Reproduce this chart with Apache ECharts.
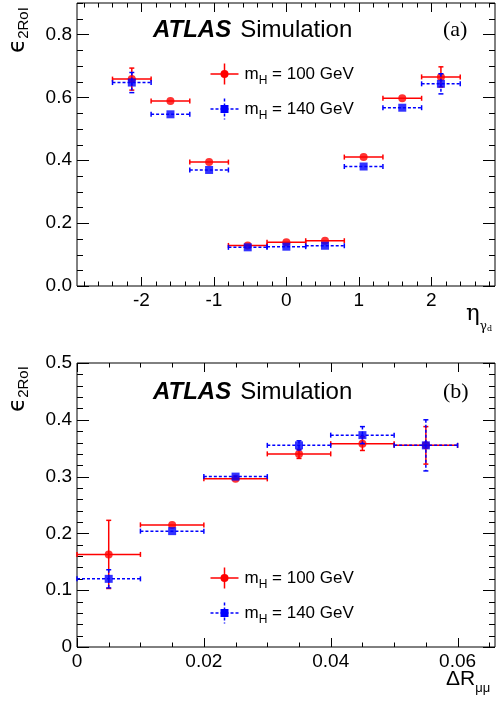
<!DOCTYPE html>
<html>
<head>
<meta charset="utf-8">
<script src="https://cdn.jsdelivr.net/npm/echarts@6/dist/echarts.min.js"></script>
<style>
html,body{margin:0;padding:0;background:#fff;}
#c{width:496px;height:703px;}
</style>
</head>
<body>
<div id="c"></div>
<script>
// ---------- data ----------
const etaEdges   = [-2.4, -1.867, -1.333, -0.8, -0.267, 0.267, 0.8, 1.333, 1.867, 2.4];
const eta100     = [0.658, 0.588, 0.394, 0.129, 0.139, 0.144, 0.410, 0.597, 0.665];
const eta100Err  = [0.035, 0.010, 0.007, 0.005, 0.005, 0.005, 0.007, 0.010, 0.032];
const eta140     = [0.647, 0.546, 0.369, 0.123, 0.125, 0.128, 0.380, 0.567, 0.643];
const eta140Err  = [0.032, 0.010, 0.007, 0.005, 0.005, 0.005, 0.007, 0.010, 0.032];

const drEdges    = [0, 0.01, 0.02, 0.03, 0.04, 0.05, 0.06];
const dr100      = [0.163, 0.215, 0.296, 0.340, 0.358, 0.355];
const dr100Err   = [0.060, 0.006, 0.005, 0.008, 0.012, 0.033];
const dr140      = [0.120, 0.204, 0.300, 0.355, 0.373, 0.355];
const dr140Err   = [0.016, 0.005, 0.005, 0.008, 0.015, 0.045];

const etaTickLabels = [-2, -1, 0, 1, 2];
const effATickLabels = [0, 0.2, 0.4, 0.6, 0.8];
const drTickLabels = [0, 0.02, 0.04, 0.06];
const effBTickLabels = [0, 0.1, 0.2, 0.3, 0.4, 0.5];

const legendLabels = ['100 GeV', '140 GeV'];

// ---------- helpers ----------
const RED = '#ff0000', BLUE = '#0000ff';
const FONT = '"Liberation Sans", Arial, Helvetica, sans-serif';

function ticks(lo, hi, step) {
  const out = [];
  const n0 = Math.ceil(lo / step - 1e-9), n1 = Math.floor(hi / step + 1e-9);
  for (let n = n0; n <= n1; n++) out.push(+(n * step).toFixed(6));
  return out;
}

function errData(edges, vals, errs) {
  return vals.map((v, i) => [edges[i], edges[i + 1], v, errs[i]]);
}
function ptData(edges, vals) {
  return vals.map((v, i) => [(edges[i] + edges[i + 1]) / 2, v]);
}

function errRender(color, dashed) {
  return function (params, api) {
    const xlo = api.value(0), xhi = api.value(1), y = api.value(2), e = api.value(3);
    const xc = (xlo + xhi) / 2;
    const pL = api.coord([xlo, y]), pR = api.coord([xhi, y]);
    const pT = api.coord([xc, y + e]), pB = api.coord([xc, y - e]);
    const st = { stroke: color, lineWidth: 1.5, lineDash: dashed ? [3, 2] : null };
    const cst = { stroke: color, lineWidth: 1.5 };
    const c = 2.5;
    const L = (x1, y1, x2, y2, s) => ({ type: 'line', shape: { x1, y1, x2, y2 }, style: s });
    const ch = [
      L(pL[0], pL[1], pR[0], pR[1], st),
      L(pL[0], pL[1] - c, pL[0], pL[1] + c, cst),
      L(pR[0], pR[1] - c, pR[0], pR[1] + c, cst)
    ];
    if (pB[1] - pT[1] > 7) {
      ch.push(L(pT[0], pT[1], pB[0], pB[1], st));
      ch.push(L(pT[0] - c, pT[1], pT[0] + c, pT[1], cst));
      ch.push(L(pB[0] - c, pB[1], pB[0] + c, pB[1], cst));
    }
    return { type: 'group', children: ch };
  };
}

// tick marks drawn on all four sides of the frame, through the axis scales
function tickSeries(gi, xMajor, xMinor, yMajor, yMinor, xLen, yLen) {
  const data = [];
  xMajor.forEach(v => data.push([v, 0, 1, 0]));
  xMinor.forEach(v => data.push([v, 0, 0, 0]));
  yMajor.forEach(v => data.push([0, v, 1, 1]));
  yMinor.forEach(v => data.push([0, v, 0, 1]));
  return {
    type: 'custom', xAxisIndex: gi, yAxisIndex: gi, silent: true, clip: false, z: 1,
    encode: { x: 0, y: 1 },
    data: data,
    renderItem: function (params, api) {
      const cs = params.coordSys;
      const major = api.value(2) === 1, isY = api.value(3) === 1;
      const st = { stroke: '#000', lineWidth: 1 };
      if (!isY) {
        const px = Math.round(api.coord([api.value(0), 0.0])[0]) + 0.5;
        const len = major ? xLen : xLen / 2;
        const b = cs.y + cs.height, t = cs.y;
        return { type: 'group', children: [
          { type: 'line', shape: { x1: px, y1: b, x2: px, y2: b - len }, style: st },
          { type: 'line', shape: { x1: px, y1: t, x2: px, y2: t + len }, style: st }
        ]};
      } else {
        const py = Math.round(api.coord([0, api.value(1)])[1]) + 0.5;
        const len = major ? yLen : yLen / 2;
        const l = cs.x, r = cs.x + cs.width;
        return { type: 'group', children: [
          { type: 'line', shape: { x1: l, y1: py, x2: l + len, y2: py }, style: st },
          { type: 'line', shape: { x1: r, y1: py, x2: r - len, y2: py }, style: st }
        ]};
      }
    }
  };
}

const labelStyle = { color: '#000', fontFamily: FONT, fontSize: 19 };

function xAx(gi, min, max, labels, fmt) {
  return {
    type: 'value', gridIndex: gi, min, max,
    axisLine: { show: false }, axisTick: { show: false }, splitLine: { show: false },
    axisLabel: Object.assign({ customValues: labels, formatter: fmt, margin: 5, showMinLabel: true, showMaxLabel: true }, labelStyle)
  };
}
function yAx(gi, min, max, labels, fmt) {
  return {
    type: 'value', gridIndex: gi, min, max,
    axisLine: { show: false }, axisTick: { show: false }, splitLine: { show: false },
    axisLabel: Object.assign({ customValues: labels, formatter: fmt, margin: 5, showMinLabel: true, showMaxLabel: true }, labelStyle)
  };
}

function legendGraphic(x, y, color, dashed, square, massTxt) {
  const st = { stroke: color, lineWidth: 1.5, lineDash: dashed ? [3, 2] : null };
  const mark = square
    ? { type: 'rect', shape: { x: x - 4, y: y - 4, width: 8, height: 8 }, style: { fill: color } }
    : { type: 'circle', shape: { cx: x, cy: y, r: 4 }, style: { fill: color } };
  return [
    { type: 'line', shape: { x1: x - 14, y1: y, x2: x + 14, y2: y }, style: st, z: 10 },
    { type: 'line', shape: { x1: x, y1: y - 10.5, x2: x, y2: y + 10.5 }, style: st, z: 10 },
    Object.assign(mark, { z: 11 }),
    {
      type: 'text', x: x + 20, y: y, z: 10,
      style: {
        text: '{m|m}{s|H}{t| = ' + massTxt + '}',
        verticalAlign: 'middle', align: 'left',
        rich: {
          m: { fontFamily: FONT, fontSize: 17, fill: '#000', lineHeight: 26, verticalAlign: 'middle' },
          s: { fontFamily: FONT, fontSize: 12, fill: '#000', lineHeight: 26, verticalAlign: 'bottom' },
          t: { fontFamily: FONT, fontSize: 17, fill: '#000', lineHeight: 26, verticalAlign: 'middle' }
        }
      }
    }
  ];
}

function atlasText(x, y) {
  return {
    type: 'text', x: x, y: y, z: 10,
    style: {
      text: '{a|ATLAS}{b|Simulation}', verticalAlign: 'middle', align: 'left',
      rich: {
        a: { fontFamily: FONT, fontSize: 24, fontWeight: 'bold', fontStyle: 'italic', fill: '#000' },
        b: { fontFamily: FONT, fontSize: 24, fill: '#000', padding: [0, 0, 0, 9] }
      }
    }
  };
}
function panelTag(x, y, t) {
  return { type: 'text', x: x, y: y, z: 10,
    style: { text: t, fontFamily: '"Liberation Serif", "Times New Roman", serif', fontSize: 22, fill: '#000', align: 'left', verticalAlign: 'middle' } };
}
function yTitle(x, y) {
  return {
    type: 'text', x: x, y: y, rotation: Math.PI / 2, z: 10,
    style: {
      text: '{e|ϵ}{s|2RoI}', align: 'left', verticalAlign: 'middle',
      rich: {
        e: { fontFamily: '"DejaVu Sans", sans-serif', fontSize: 23, fill: '#000', lineHeight: 26, verticalAlign: 'middle' },
        s: { fontFamily: FONT, fontSize: 15, fill: '#000', lineHeight: 26, verticalAlign: 'bottom' }
      }
    }
  };
}

const chart = echarts.init(document.getElementById('c'), null, { renderer: 'canvas' });

const grids = [
  { left: 77, top: 3, width: 418, height: 283, show: true, borderColor: '#000', borderWidth: 1, backgroundColor: 'transparent' },
  { left: 77, top: 363, width: 418, height: 284, show: true, borderColor: '#000', borderWidth: 1, backgroundColor: 'transparent' }
];

const option = {
  animation: false,
  backgroundColor: '#fff',
  grid: grids,
  xAxis: [
    xAx(0, -2.89, 2.88, etaTickLabels, v => String(v)),
    xAx(1, 0, 0.0659, drTickLabels, v => v === 0 ? '0' : v.toFixed(2))
  ],
  yAxis: [
    yAx(0, 0, 0.9, effATickLabels, v => v.toFixed(1)),
    yAx(1, 0, 0.5, effBTickLabels, v => v === 0 ? '0' : v.toFixed(1))
  ],
  series: [
    tickSeries(0, ticks(-2.89, 2.88, 1), ticks(-2.89, 2.88, 0.2).filter(v => Math.abs(v - Math.round(v)) > 1e-6),
               ticks(0, 0.9, 0.2), ticks(0, 0.9, 0.05).filter(v => Math.abs(v / 0.2 - Math.round(v / 0.2)) > 1e-6), 9, 12),
    tickSeries(1, ticks(0, 0.0659, 0.02), ticks(0, 0.0659, 0.005).filter(v => Math.abs(v / 0.02 - Math.round(v / 0.02)) > 1e-6),
               ticks(0, 0.5, 0.1), ticks(0, 0.5, 0.02).filter(v => Math.abs(v / 0.1 - Math.round(v / 0.1)) > 1e-6), 9, 12),

    { type: 'custom', name: 'mH100 err a', xAxisIndex: 0, yAxisIndex: 0, encode: { x: [0, 1], y: 2 }, clip: false, z: 2,
      data: errData(etaEdges, eta100, eta100Err), renderItem: errRender(RED, false) },
    { type: 'scatter', name: 'mH100 a', xAxisIndex: 0, yAxisIndex: 0, symbol: 'circle', symbolSize: 8, z: 3,
      itemStyle: { color: RED }, data: ptData(etaEdges, eta100) },
    { type: 'custom', name: 'mH140 err a', xAxisIndex: 0, yAxisIndex: 0, encode: { x: [0, 1], y: 2 }, clip: false, z: 4,
      data: errData(etaEdges, eta140, eta140Err), renderItem: errRender(BLUE, true) },
    { type: 'scatter', name: 'mH140 a', xAxisIndex: 0, yAxisIndex: 0, symbol: 'rect', symbolSize: 8, z: 5,
      itemStyle: { color: BLUE }, data: ptData(etaEdges, eta140) },

    { type: 'custom', name: 'mH100 err b', xAxisIndex: 1, yAxisIndex: 1, encode: { x: [0, 1], y: 2 }, clip: false, z: 2,
      data: errData(drEdges, dr100, dr100Err), renderItem: errRender(RED, false) },
    { type: 'scatter', name: 'mH100 b', xAxisIndex: 1, yAxisIndex: 1, symbol: 'circle', symbolSize: 8, z: 3,
      itemStyle: { color: RED }, data: ptData(drEdges, dr100) },
    { type: 'custom', name: 'mH140 err b', xAxisIndex: 1, yAxisIndex: 1, encode: { x: [0, 1], y: 2 }, clip: false, z: 4,
      data: errData(drEdges, dr140, dr140Err), renderItem: errRender(BLUE, true) },
    { type: 'scatter', name: 'mH140 b', xAxisIndex: 1, yAxisIndex: 1, symbol: 'rect', symbolSize: 8, z: 5,
      itemStyle: { color: BLUE }, data: ptData(drEdges, dr140) }
  ],
  graphic: [].concat(
    [atlasText(153, 30), panelTag(443, 30, '(a)'), atlasText(153, 392), panelTag(443, 392, '(b)'),
     yTitle(18, 53), yTitle(18, 412),
     { type: 'text', x: 466, y: 314, z: 10, style: { text: '{e|η}{g|γ}{d|d}', align: 'left', verticalAlign: 'middle',
        rich: {
          e: { fontFamily: '"DejaVu Serif", serif', fontSize: 23, fill: '#000', lineHeight: 30, verticalAlign: 'middle' },
          g: { fontFamily: '"DejaVu Serif", serif', fontSize: 12, fill: '#000', lineHeight: 30, verticalAlign: 'bottom' },
          d: { fontFamily: '"DejaVu Serif", serif', fontSize: 8, fill: '#000', lineHeight: 38, verticalAlign: 'bottom' }
        } } },
     { type: 'text', x: 446, y: 679, z: 10, style: { text: '{a|ΔR}{s|μμ}', align: 'left', verticalAlign: 'middle',
        rich: {
          a: { fontFamily: FONT, fontSize: 21, fill: '#000', lineHeight: 26, verticalAlign: 'middle' },
          s: { fontFamily: FONT, fontSize: 13, fill: '#000', lineHeight: 32, verticalAlign: 'bottom' }
        } } }
    ],
    legendGraphic(224.5, 74, RED, false, false, legendLabels[0]),
    legendGraphic(224.5, 109, BLUE, true, true, legendLabels[1]),
    legendGraphic(224.5, 578, RED, false, false, legendLabels[0]),
    legendGraphic(224.5, 613, BLUE, true, true, legendLabels[1])
  )
};
chart.setOption(option);
</script>
</body>
</html>
